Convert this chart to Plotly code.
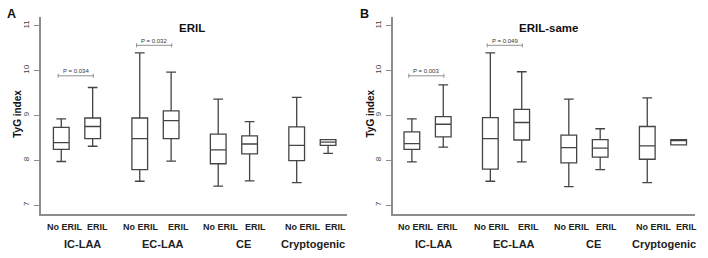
import plotly.graph_objects as go

# ---- data ----
groups = ["IC-LAA", "EC-LAA", "CE", "Cryptogenic"]
conds = ["No ERIL", "ERIL"]
positions = [1, 2, 3.5, 4.5, 6, 7, 8.5, 9.5]

a_lower = [7.97, 8.31, 7.53, 7.98, 7.42, 7.54, 7.50, 8.15]
a_q1 = [8.24, 8.48, 7.79, 8.48, 7.92, 8.14, 7.99, 8.33]
a_med = [8.39, 8.75, 8.48, 8.88, 8.23, 8.36, 8.33, 8.40]
a_q3 = [8.73, 8.94, 8.94, 9.10, 8.58, 8.54, 8.74, 8.46]
a_upper = [8.92, 9.62, 10.39, 9.96, 9.36, 8.86, 9.40, 8.46]

b_lower = [7.96, 8.29, 7.53, 7.96, 7.41, 7.79, 7.50, 8.34]
b_q1 = [8.24, 8.52, 7.80, 8.45, 7.94, 8.07, 8.02, 8.34]
b_med = [8.37, 8.80, 8.48, 8.84, 8.28, 8.27, 8.32, 8.44]
b_q3 = [8.63, 8.97, 8.95, 9.13, 8.56, 8.46, 8.75, 8.46]
b_upper = [8.92, 9.68, 10.39, 9.97, 9.36, 8.70, 9.39, 8.46]

a_pvals = ["P = 0.034", "P = 0.032"]
b_pvals = ["P = 0.003", "P = 0.049"]
bracket_pairs = [(0, 1), (2, 3)]
bracket_heights = [9.88, 10.56]

yticks = [7, 8, 9, 10, 11]

# ---- styling ----
FONT = "Liberation Sans"
BOXC = "#444444"
AXC = "#8c8c8c"

fig = go.Figure()

panels = [
    dict(lower=a_lower, q1=a_q1, med=a_med, q3=a_q3, upper=a_upper,
         xa="x", ya="y", title="ERIL", letter="A", pvals=a_pvals,
         dom=[0.0579, 0.490], xr=[0.354, 10.1], title_x=0.2716,
         letter_x=0.0165, ylab_x=0.0244),
    dict(lower=b_lower, q1=b_q1, med=b_med, q3=b_q3, upper=b_upper,
         xa="x2", ya="y2", title="ERIL-same", letter="B", pvals=b_pvals,
         dom=[0.5547, 0.9816], xr=[0.39, 10.02], title_x=0.7754,
         letter_x=0.5155, ylab_x=0.524),
]

label_offsets = [0.13, 0.15, 0.04, 0.22, 0.09, 0.19, 0.21, 0.24]
group_label_pos = [1.675, 4.24, 6.79, 9.03]

annotations = []
shapes = []


def ann(**kw):
    kw.setdefault("showarrow", False)
    kw.setdefault("xanchor", "center")
    kw.setdefault("yanchor", "middle")
    annotations.append(kw)


for p in panels:
    for i, pos in enumerate(positions):
        fig.add_trace(go.Box(
            x=[pos], q1=[p["q1"][i]], median=[p["med"][i]], q3=[p["q3"][i]],
            lowerfence=[p["lower"][i]], upperfence=[p["upper"][i]],
            width=0.5, whiskerwidth=0.62, boxpoints=False,
            line=dict(color=BOXC, width=1.3), fillcolor="white",
            xaxis=p["xa"], yaxis=p["ya"], showlegend=False, hoverinfo="skip",
        ))
    xref = p["xa"]
    yref = p["ya"]
    # category labels
    for i, pos in enumerate(positions):
        ann(x=pos + label_offsets[i], y=0.120, xref=xref, yref="paper",
            text="<b>%s</b>" % conds[i % 2],
            font=dict(family=FONT, size=9, color="#222"))
    for g, gx in zip(groups, group_label_pos):
        ann(x=gx, y=0.054, xref=xref, yref="paper", text="<b>%s</b>" % g,
            font=dict(family=FONT, size=11, color="#222"))
    # brackets
    for (i0, i1), h, txt in zip(bracket_pairs, bracket_heights, p["pvals"]):
        x0 = positions[i0] - 0.1
        x1 = positions[i1] + 0.02
        for (xa0, ya0, xa1, ya1) in [(x0, h, x1, h), (x0, h - 0.045, x0, h + 0.045),
                                     (x1, h - 0.045, x1, h + 0.045)]:
            shapes.append(dict(type="line", xref=xref, yref=yref, x0=xa0, y0=ya0,
                               x1=xa1, y1=ya1, line=dict(color="#777", width=0.8)))
        ann(x=(x0 + x1) / 2, y=h + 0.1, xref=xref, yref=yref, text=txt,
            font=dict(family=FONT, size=6, color="#333"))
    # title, letter, y label
    ann(x=p["title_x"], y=0.891, xref="paper", yref="paper",
        text="<b>%s</b>" % p["title"],
        font=dict(family=FONT, size=11.5, color="#111"))
    ann(x=p["letter_x"], y=0.946, xref="paper", yref="paper",
        text="<b>%s</b>" % p["letter"],
        font=dict(family=FONT, size=12.5, color="#111"))
    ann(x=p["ylab_x"], y=0.56, xref="paper", yref="paper",
        text="<b>TyG index</b>", textangle=-90,
        font=dict(family=FONT, size=10, color="#111"))

axis_common_x = dict(showgrid=False, zeroline=False, showticklabels=False,
                     ticks="", showline=True, linecolor=AXC, linewidth=1.5)
axis_common_y = dict(showgrid=False, zeroline=False, range=[6.8, 11.19],
                     tickvals=yticks, ticks="outside", ticklen=5, tickcolor=AXC,
                     tickwidth=1, tickangle=-90, showline=True, linecolor=AXC,
                     linewidth=1.5, ticklabelstandoff=2,
                     tickfont=dict(family=FONT, size=8, color="#444"),
                     domain=[0.1705, 0.934])

fig.update_layout(
    width=708, height=258, margin=dict(l=0, r=0, t=0, b=0),
    paper_bgcolor="white", plot_bgcolor="white", boxmode="overlay",
    xaxis=dict(domain=panels[0]["dom"], range=panels[0]["xr"], anchor="y", **axis_common_x),
    yaxis=dict(anchor="x", **axis_common_y),
    xaxis2=dict(domain=panels[1]["dom"], range=panels[1]["xr"], anchor="y2", **axis_common_x),
    yaxis2=dict(anchor="x2", **axis_common_y),
    annotations=annotations, shapes=shapes,
)

fig.write_html("out.html", config={"displayModeBar": False},
               post_script="document.body.style.margin='0px';document.body.style.overflow='hidden';")
